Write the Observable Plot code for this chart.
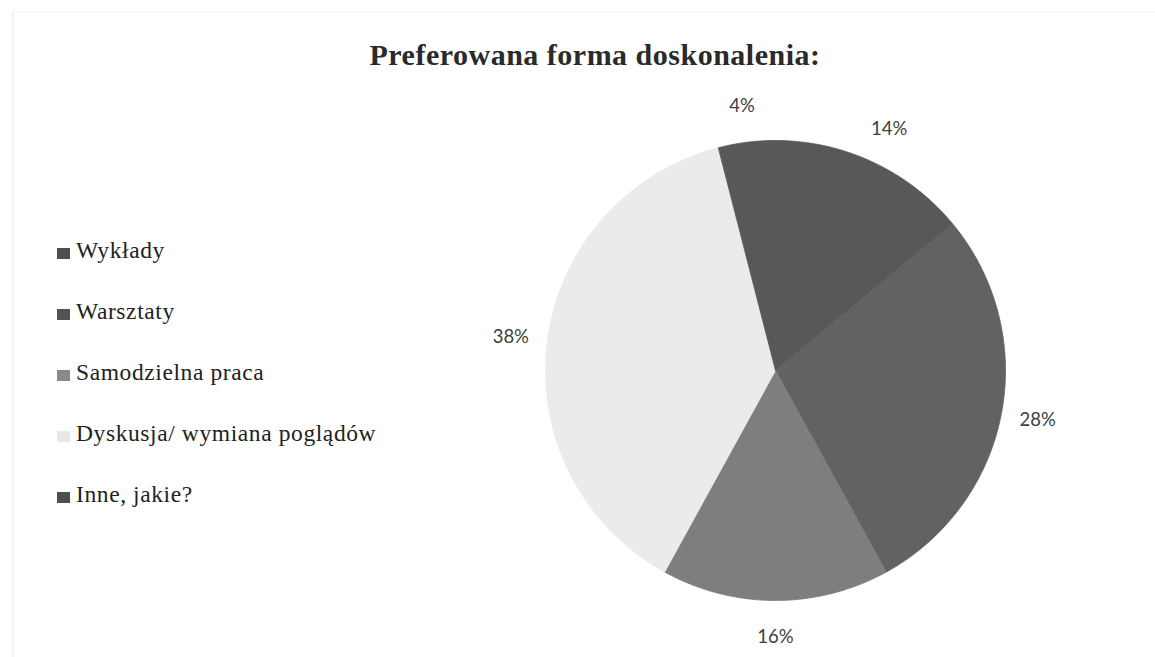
<!DOCTYPE html>
<html>
<head>
<meta charset="utf-8">
<script src="https://cdn.jsdelivr.net/npm/d3@7"></script>
<script src="https://cdn.jsdelivr.net/npm/@observablehq/plot@0.6"></script>
<style>
  html, body { margin: 0; padding: 0; background: #fff; }
  #wrap { position: relative; width: 1155px; height: 657px; overflow: hidden; }
  #frame { position: absolute; left: 12px; top: 11px; right: 0; bottom: 0; border-left: 2px solid #f3f3f3; border-top: 2px solid #f6f6f6; }
  #title { position: absolute; left: 0; top: 38px; width: 1190px; text-align: center;
           font-family: "Liberation Serif", "DejaVu Serif", serif; font-weight: bold; font-size: 30px;
           letter-spacing: 0.5px; color: #2a2a2a; }
  #legend { position: absolute; left: 57px; top: 237px; font-family: "Liberation Serif", serif; font-size: 23.5px;
            letter-spacing: 0.6px; color: #222; }
  .item { height: 61px; display: flex; align-items: flex-start; }
  .sw { width: 13px; height: 11px; margin-right: 6px; margin-top: 11px; }
  #chart { position: absolute; left: 0; top: 0; }
</style>
</head>
<body>
<div id="wrap">
  <div id="frame"></div>
  <div id="chart"></div>
  <div id="title">Preferowana forma doskonalenia:</div>
  <div id="legend"></div>
</div>
<script>
const categories = ["Wykłady", "Warsztaty", "Samodzielna praca", "Dyskusja/ wymiana poglądów", "Inne, jakie?"];
const values = [14, 28, 16, 38, 4];
const labels = ["14%", "28%", "16%", "38%", "4%"];
const sliceColors = ["#585858", "#626262", "#7e7e7e", "#ebebeb", "#585858"];
const swatchColors = ["#4e4e4e", "#535353", "#8a8a8a", "#e8e8e8", "#4e4e4e"];

const W = 1155, H = 657, cx = 775, cy = 370, R = 230;

const pie = d3.pie().sort(null).value(d => d.value)(categories.map((c, i) => ({name: c, value: values[i], label: labels[i]})));

// polygon points for each slice in unit coordinates (angle from 12 o'clock, clockwise)
const pts = [];
pie.forEach(a => {
  pts.push({name: a.data.name, x: 0, y: 0});
  const n = Math.max(4, Math.ceil((a.endAngle - a.startAngle) / 0.01));
  for (let k = 0; k <= n; k++) {
    const t = a.startAngle + (a.endAngle - a.startAngle) * k / n;
    pts.push({name: a.data.name, x: Math.sin(t), y: Math.cos(t)});
  }
  pts.push({name: a.data.name, x: 0, y: 0});
});

const labelPts = pie.map(a => {
  const t = (a.startAngle + a.endAngle) / 2;
  const r = 1.16;
  return {label: a.data.label, x: r * Math.sin(t), y: r * Math.cos(t)};
});

const chart = Plot.plot({
  width: W, height: H,
  margin: 0,
  x: {domain: [-cx / R, (W - cx) / R], axis: null},
  y: {domain: [-(H - cy) / R, cy / R], axis: null},
  color: {domain: categories, range: sliceColors},
  marks: [
    Plot.line(pts, {x: "x", y: "y", z: "name", fill: "name", stroke: "name", strokeWidth: 0.8, curve: "linear"}),
    Plot.text(labelPts, {x: "x", y: "y", text: "label", fontSize: 18.5, fill: "#404040",
      fontFamily: "Lato, 'Open Sans', sans-serif"})
  ],
  style: {background: "transparent"}
});
document.getElementById("chart").appendChild(chart);

const leg = document.getElementById("legend");
categories.forEach((c, i) => {
  const d = document.createElement("div");
  d.className = "item";
  d.innerHTML = `<div class="sw" style="background:${swatchColors[i]}"></div><span>${c}</span>`;
  leg.appendChild(d);
});
</script>
</body>
</html>
